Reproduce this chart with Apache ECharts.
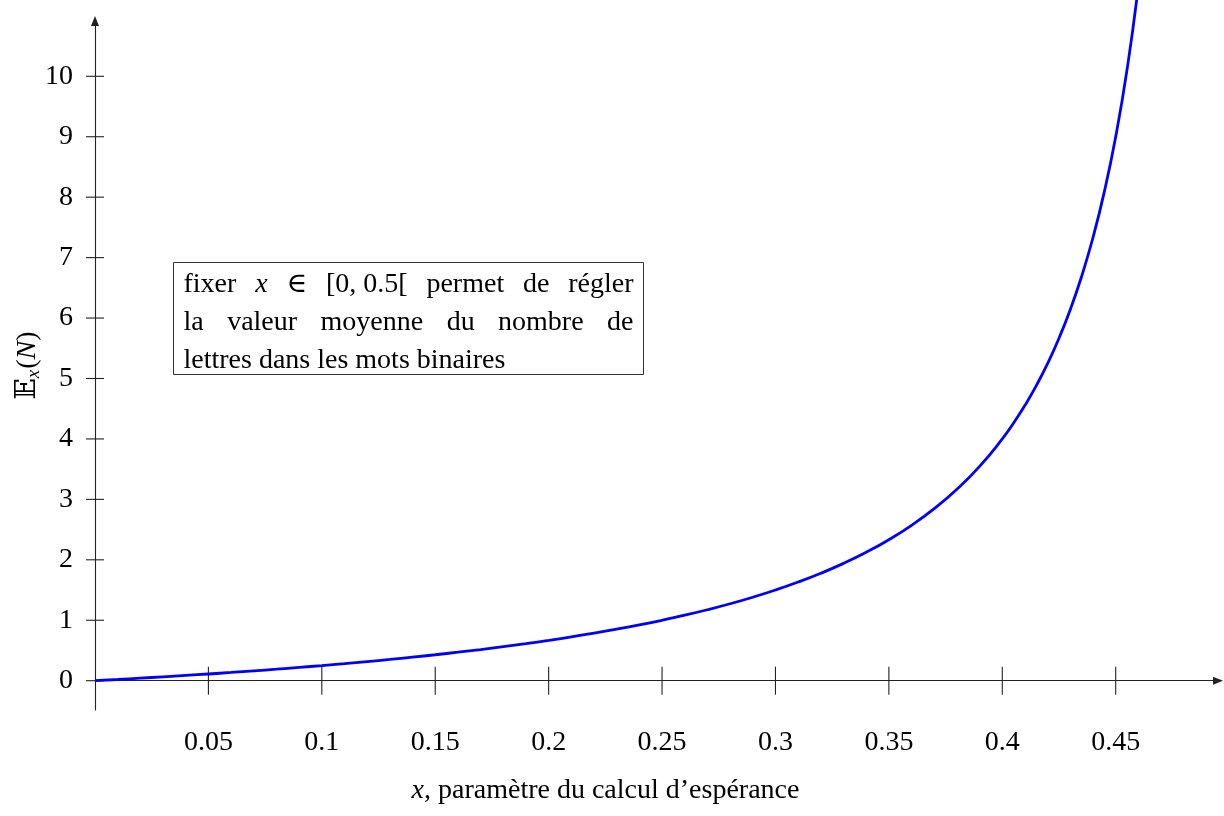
<!DOCTYPE html>
<html>
<head>
<meta charset="utf-8">
<script src="https://cdn.jsdelivr.net/npm/echarts@6/dist/echarts.min.js"></script>
<style>
  html, body { margin: 0; background: #fff; }
  #main { width: 1224px; height: 816px; }
</style>
</head>
<body>
<div id="main"></div>
<script>
// values
const xTicks = [0.05, 0.1, 0.15, 0.2, 0.25, 0.3, 0.35, 0.4, 0.45];
const yTicks = [0, 1, 2, 3, 4, 5, 6, 7, 8, 9, 10];

const xVals = [0, 0.01, 0.02, 0.03, 0.04, 0.05, 0.06, 0.07, 0.08, 0.09, 0.1,
  0.11, 0.12, 0.13, 0.14, 0.15, 0.16, 0.17, 0.18, 0.19, 0.2,
  0.21, 0.22, 0.23, 0.24, 0.25, 0.26, 0.27, 0.28, 0.29, 0.3,
  0.31, 0.32, 0.33, 0.34, 0.35, 0.36, 0.37, 0.38, 0.39, 0.4,
  0.405, 0.41, 0.415, 0.42, 0.425, 0.43, 0.435, 0.44, 0.445, 0.45, 0.455, 0.46, 0.465];
const yVals = [0, 0.020, 0.042, 0.064, 0.087, 0.111, 0.136, 0.163, 0.190, 0.220, 0.250,
  0.282, 0.316, 0.351, 0.389, 0.429, 0.471, 0.515, 0.563, 0.613, 0.667,
  0.724, 0.786, 0.852, 0.923, 1.000, 1.083, 1.174, 1.273, 1.381, 1.500,
  1.632, 1.778, 1.941, 2.125, 2.333, 2.571, 2.846, 3.167, 3.545, 4.000,
  4.263, 4.556, 4.882, 5.250, 5.667, 6.143, 6.692, 7.333, 8.091, 9.000, 10.111, 11.500, 13.286];

const noteLines = [
  [["fixer"], ["x", "italic"], ["∈"], ["[0, 0.5["], ["permet"], ["de"], ["régler"]],
  [["la"], ["valeur"], ["moyenne"], ["du"], ["nombre"], ["de"]],
  [["lettres dans les mots binaires"]],
];

const FONT = '"Liberation Serif", "DejaVu Serif", "DejaVu Sans", serif';
const FS = 28;
const axisColor = "#222";

const chart = echarts.init(document.getElementById("main"));

// justified note box (like the LaTeX node)
const box = { left: 173, top: 262, width: 470, height: 112, pad: 10, lineGap: 38, firstY: 22 };
const measure = document.createElement("canvas").getContext("2d");
const noteTexts = [];
noteLines.forEach((words, li) => {
  const fonts = words.map(w => (w[1] === "italic" ? "italic " : "") + FS + "px " + FONT);
  const widths = words.map((w, i) => {
    measure.font = fonts[i];
    return measure.measureText(w[0]).width;
  });
  const inner = box.width - 2 * box.pad;
  const used = widths.reduce((a, b) => a + b, 0);
  const justify = li < noteLines.length - 1 && words.length > 1;
  const gap = justify ? (inner - used) / (words.length - 1) : 0;
  let x = box.pad;
  words.forEach((w, i) => {
    noteTexts.push({
      type: "text",
      x: x,
      y: box.firstY + li * box.lineGap,
      style: { text: w[0], font: fonts[i], fill: "#000", verticalAlign: "middle" },
    });
    x += widths[i] + gap;
  });
});

// pgfplots-style ticks that cross the axis line
const crossTicks = (dim, half) => ({
  type: "custom",
  xAxisIndex: 0,
  yAxisIndex: 0,
  clip: false,
  silent: true,
  z: 2,
  data: (dim === "x" ? xTicks : yTicks).map(v => (dim === "x" ? [v, 0] : [0, v])),
  renderItem: (params, api) => {
    const p = api.coord([api.value(0), api.value(1)]);
    const shape = dim === "x"
      ? { x1: p[0], y1: p[1] - half, x2: p[0], y2: p[1] + half }
      : { x1: p[0] - half, y1: p[1], x2: p[0] + half, y2: p[1] };
    return { type: "line", shape: shape, style: { stroke: axisColor, lineWidth: 1.1 } };
  },
});

chart.setOption({
  animation: false,
  grid: { left: 95, right: 6, top: 21, bottom: 106, containLabel: false, outerBoundsMode: "none" },
  xAxis: {
    type: "value",
    min: 0,
    max: 0.4951,
    splitLine: { show: false },
    axisLine: {
      onZero: true,
      symbol: ["none", "triangle"],
      symbolSize: [8, 10],
      lineStyle: { color: axisColor, width: 1.1 },
    },
    axisTick: { show: false },
    axisLabel: {
      customValues: xTicks,
      margin: 19,
      color: "#000",
      fontFamily: FONT,
      fontSize: FS,
    },
    name: "{i|x}, paramètre du calcul d’espérance",
    nameLocation: "middle",
    nameGap: 67,
    nameMoveOverlap: false,
    nameTextStyle: {
      color: "#000",
      fontFamily: FONT,
      fontSize: FS,
      padding: [0, 102, 0, 0],
      rich: { i: { fontStyle: "italic", fontFamily: FONT, fontSize: FS, color: "#000" } },
    },
  },
  yAxis: {
    type: "value",
    min: -0.485,
    max: 10.915,
    splitLine: { show: false },
    axisLine: {
      show: true,
      onZero: true,
      symbol: ["none", "triangle"],
      symbolSize: [8, 10],
      lineStyle: { color: axisColor, width: 1.1 },
    },
    axisTick: { show: false },
    axisLabel: {
      customValues: yTicks,
      margin: 22,
      color: "#000",
      fontFamily: FONT,
      fontSize: FS,
    },
    name: "{bb|𝔼}{sub|x}{n|(}{i|N}{n|)}",
    nameLocation: "middle",
    nameGap: 52,
    nameMoveOverlap: false,
    nameTextStyle: {
      color: "#000",
      rich: {
        bb: { fontFamily: FONT, fontSize: FS, color: "#000" },
        sub: { fontFamily: FONT, fontStyle: "italic", fontSize: 19, color: "#000", padding: [12, 1, 0, 0] },
        n: { fontFamily: FONT, fontSize: FS, color: "#000" },
        i: { fontFamily: FONT, fontStyle: "italic", fontSize: FS, color: "#000" },
      },
    },
  },
  series: [
    crossTicks("x", 14),
    crossTicks("y", 9),
    {
      type: "line",
      data: xVals.map((x, i) => [x, yVals[i]]),
      showSymbol: false,
      smooth: true,
      clip: false,
      lineStyle: { color: "#0000ff", width: 2.8 },
      z: 3,
    },
  ],
  graphic: [
    {
      type: "group",
      left: box.left,
      top: box.top,
      children: [
        {
          type: "rect",
          shape: { x: 0, y: 0, width: box.width, height: box.height },
          style: { fill: "#fff", stroke: "#333", lineWidth: 1 },
        },
        ...noteTexts,
      ],
    },
  ],
});
</script>
</body>
</html>
